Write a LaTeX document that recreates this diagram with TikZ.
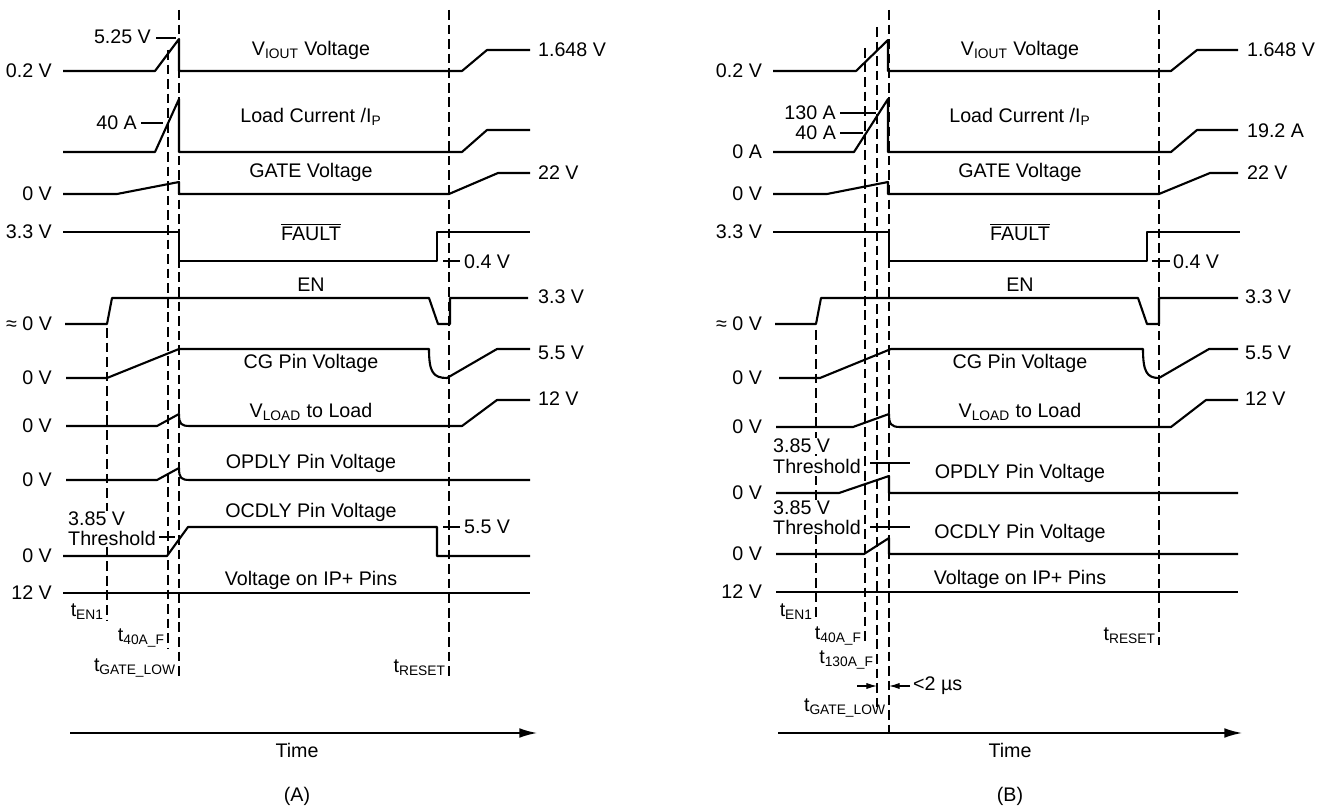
\documentclass[tikz,border=0pt]{standalone}
\usepackage{fontspec}
\setmainfont{Liberation Sans}
\usetikzlibrary{arrows.meta}
\begin{document}
\begin{tikzpicture}[x=0.02cm,y=-0.02cm,
  wave/.style={line width=1.2pt,line join=round},
  tline/.style={line width=0.6pt,dash pattern=on 5.5pt off 2.8pt},
  lvl/.style={line width=0.6pt},
  thr/.style={anchor=west,fill=white,inner sep=0.5pt},
  every node/.style={font=\fontsize{11.2}{13}\selectfont,inner sep=1pt}]
	\tikzset{>={Latex[length=10pt,width=5.5pt]}}
  \useasboundingbox (0,0) rectangle (1326,807);

  % (A)
  \draw[tline] (107,328) -- (107,620);
  \draw[tline] (168,50) -- (168,648);
  \draw[tline] (179,10) -- (179,678);
  \draw[tline] (449,10) -- (449,678);

  \draw[wave] (63,71) -- (155,71) -- (179,39) -- (179,71) -- (462,71) -- (487,50) -- (530,50);
  \draw[wave] (63,152) -- (155,152) -- (179,99) -- (179,152) -- (462,152) -- (487,130) -- (530,130);
  \draw[wave] (63,194) -- (117,194) -- (179,182) -- (179,194) -- (449,194) -- (498,173) -- (530,173);
  \draw[wave] (63,232) -- (179,232) -- (179,261) -- (437,261) -- (437,232) -- (530,232);
  \draw[wave] (65,324) -- (107,324) -- (112,298) -- (429,298) -- (438,324) -- (450,324) -- (450,298) -- (528,298);
  \draw[wave] (66,378) -- (107,378) -- (179,349) -- (429,349) .. controls (429,372) and (433,378) .. (447,378) -- (497,349) -- (530,349);
  \draw[wave] (66,426) -- (157,426) -- (179,414) .. controls (179,424) and (181,426) .. (190,426) -- (462,426) -- (497,400) -- (530,400);
  \draw[wave] (66,480) -- (157,480) -- (179,468) .. controls (179,478) and (181,480) .. (190,480) -- (530,480);
  \draw[wave] (63,556) -- (167,556) -- (188,527) -- (437,527) -- (437,556) -- (530,556);
  \draw[wave] (63,593) -- (530,593);

  \draw[lvl] (156,38) -- (176,38);
  \draw[lvl] (141,123) -- (163,123);
  \draw[lvl] (443,261) -- (460,261);
  \draw[lvl] (159,537) -- (175,537);
  \draw[lvl] (443,527) -- (460,527);

  \node[anchor=east] (ioutA) at (54,71) {0.2 V};
  \node[anchor=east] (gateA) at (54,194) {0 V};
  \node[anchor=east] (faultA) at (54,232) {3.3 V};
  \node[anchor=east] (enA) at (54,324) {≈ 0 V};
  \node[anchor=east] (cgA) at (54,378) {0 V};
  \node[anchor=east] (loadA) at (54,426) {0 V};
  \node[anchor=east] (opA) at (54,480) {0 V};
  \node[anchor=east] (ocA) at (54,556) {0 V};
  \node[anchor=east] (ipA) at (54,593) {12 V};

  \node[anchor=east] (pkA) at (153,37) {5.25 V};
  \node[anchor=east] (i40A) at (139,123) {40 A};
  \node[thr] (thvA) at (67,519) {3.85 V};
  \node[thr] (thA) at (67,538) {Threshold};

  \node (tioutA) at (311,50) {V\textsubscript{IOUT} Voltage};
  \node (tloadA) at (311,117) {Load Current /I\textsubscript{P}};
  \node (tgateA) at (311,172) {GATE Voltage};
  \node (tfaultA) at (311,232) {$\overline{\mbox{FAULT}}$};
  \node (tenA) at (311,285) {EN};
  \node (tcgA) at (311,363) {CG Pin Voltage};
  \node (tvlA) at (311,412) {V\textsubscript{LOAD} to Load};
  \node (topA) at (311,463) {OPDLY Pin Voltage};
  \node (tocA) at (311,512) {OCDLY Pin Voltage};
  \node (tipA) at (311,580) {Voltage on IP+ Pins};

  \node[anchor=west] (rioutA) at (536,50) {1.648 V};
  \node[anchor=west] (rgateA) at (536,173) {22 V};
  \node[anchor=west] (rfaultA) at (462,262) {0.4 V};
  \node[anchor=west] (renA) at (536,297) {3.3 V};
  \node[anchor=west] (rcgA) at (536,353) {5.5 V};
  \node[anchor=west] (rloadA) at (536,399) {12 V};
  \node[anchor=west] (rocA) at (462,527) {5.5 V};

  \node[anchor=east] (ten1A) at (106,612) {t\textsubscript{EN1}};
  \node[anchor=east] (t40A) at (167,638) {t\textsubscript{40A\_F}};
  \node[anchor=east] (tglA) at (178,668) {t\textsubscript{GATE\_LOW}};
  \node[anchor=east] (trsA) at (448,668) {t\textsubscript{RESET}};

  \draw[line width=0.9pt,->] (70,733) -- (537,733);
  \node (timeA) at (297,750) {Time};
  \node (capA) at (297,796) {(A)};

  % (B)
  \draw[tline] (816,330) -- (816,620);
  \draw[tline] (865,48) -- (865,645);
  \draw[tline] (877,27) -- (877,712);
  \draw[tline] (889,10) -- (889,735);
  \draw[tline] (1159,10) -- (1159,645);

  \draw[wave] (773,71) -- (856,71) -- (888,40) -- (888,71) -- (1171,71) -- (1197,50) -- (1238,50);
  \draw[wave] (773,152) -- (854,152) -- (888,99) -- (888,152) -- (1171,152) -- (1197,130) -- (1238,130);
  \draw[wave] (773,194) -- (827,194) -- (888,182) -- (888,194) -- (1159,194) -- (1210,173) -- (1238,173);
  \draw[wave] (773,232) -- (889,232) -- (889,261) -- (1147,261) -- (1147,232) -- (1240,232);
  \draw[wave] (775,324) -- (816,324) -- (821,298) -- (1138,298) -- (1147,324) -- (1159,324) -- (1159,298) -- (1238,298);
  \draw[wave] (779,378) -- (820,378) -- (891,349) -- (1143,349) .. controls (1143,372) and (1147,378) .. (1159,378) -- (1209,349) -- (1238,349);
  \draw[wave] (776,427) -- (853,427) -- (889,414) .. controls (889,424) and (891,427) .. (900,427) -- (1171,427) -- (1206,400) -- (1238,400);
  \draw[wave] (776,493) -- (839,493) -- (889,476) -- (889,493) -- (1238,493);
  \draw[wave] (776,554) -- (864,554) -- (889,538) -- (889,554) -- (1238,554);
  \draw[wave] (776,592) -- (1238,592);

  \draw[lvl] (840,113) -- (876,113);
  \draw[lvl] (840,133) -- (863,133);
  \draw[lvl] (1152,261) -- (1170,261);
  \draw[lvl] (870,463) -- (910,463);
  \draw[lvl] (870,527) -- (910,527);

  \node[anchor=east] (ioutB) at (764,71) {0.2 V};
  \node[anchor=east] (curB) at (764,152) {0 A};
  \node[anchor=east] (gateB) at (764,194) {0 V};
  \node[anchor=east] (faultB) at (764,232) {3.3 V};
  \node[anchor=east] (enB) at (764,324) {≈ 0 V};
  \node[anchor=east] (cgB) at (764,378) {0 V};
  \node[anchor=east] (loadB) at (764,427) {0 V};
  \node[anchor=east] (opB) at (764,493) {0 V};
  \node[anchor=east] (ocB) at (764,554) {0 V};
  \node[anchor=east] (ipB) at (764,592) {12 V};

  \node[anchor=east] (i130B) at (838,113) {130 A};
  \node[anchor=east] (i40B) at (838,133) {40 A};
  \node[thr] (thvopB) at (772,446) {3.85 V};
  \node[thr] (thopB) at (772,466) {Threshold};
  \node[thr] (thvocB) at (772,508) {3.85 V};
  \node[thr] (thocB) at (772,527) {Threshold};

  \node (tioutB) at (1020,50) {V\textsubscript{IOUT} Voltage};
  \node (tloadB) at (1020,117) {Load Current /I\textsubscript{P}};
  \node (tgateB) at (1020,172) {GATE Voltage};
  \node (tfaultB) at (1020,232) {$\overline{\mbox{FAULT}}$};
  \node (tenB) at (1020,285) {EN};
  \node (tcgB) at (1020,363) {CG Pin Voltage};
  \node (tvlB) at (1020,412) {V\textsubscript{LOAD} to Load};
  \node (topB) at (1020,473) {OPDLY Pin Voltage};
  \node (tocB) at (1020,533) {OCDLY Pin Voltage};
  \node (tipB) at (1020,579) {Voltage on IP+ Pins};

  \node[anchor=west] (rioutB) at (1245,50) {1.648 V};
  \node[anchor=west] (rcurB) at (1245,131) {19.2 A};
  \node[anchor=west] (rgateB) at (1245,173) {22 V};
  \node[anchor=west] (rfaultB) at (1171,262) {0.4 V};
  \node[anchor=west] (renB) at (1243,297) {3.3 V};
  \node[anchor=west] (rcgB) at (1243,353) {5.5 V};
  \node[anchor=west] (rloadB) at (1243,399) {12 V};

  \node[anchor=east] (ten1B) at (815,612) {t\textsubscript{EN1}};
  \node[anchor=east] (t40B) at (864,636) {t\textsubscript{40A\_F}};
  \node[anchor=east] (t130B) at (876,660) {t\textsubscript{130A\_F}};
  \node[anchor=east] (tglB) at (888,708) {t\textsubscript{GATE\_LOW}};
  \node[anchor=east] (trsB) at (1158,636) {t\textsubscript{RESET}};

  \draw[lvl,-{Latex[length=6pt,width=3.5pt]}] (857,686) -- (877,686);
  \draw[lvl,-{Latex[length=6pt,width=3.5pt]}] (910,686) -- (889,686);
  \node[anchor=west] (lt2B) at (911,686) {<2 µs};

  \draw[line width=0.9pt,->] (778,733) -- (1242,733);
  \node (timeB) at (1010,750) {Time};
  \node (capB) at (1010,796) {(B)};

\end{tikzpicture}
\end{document}
